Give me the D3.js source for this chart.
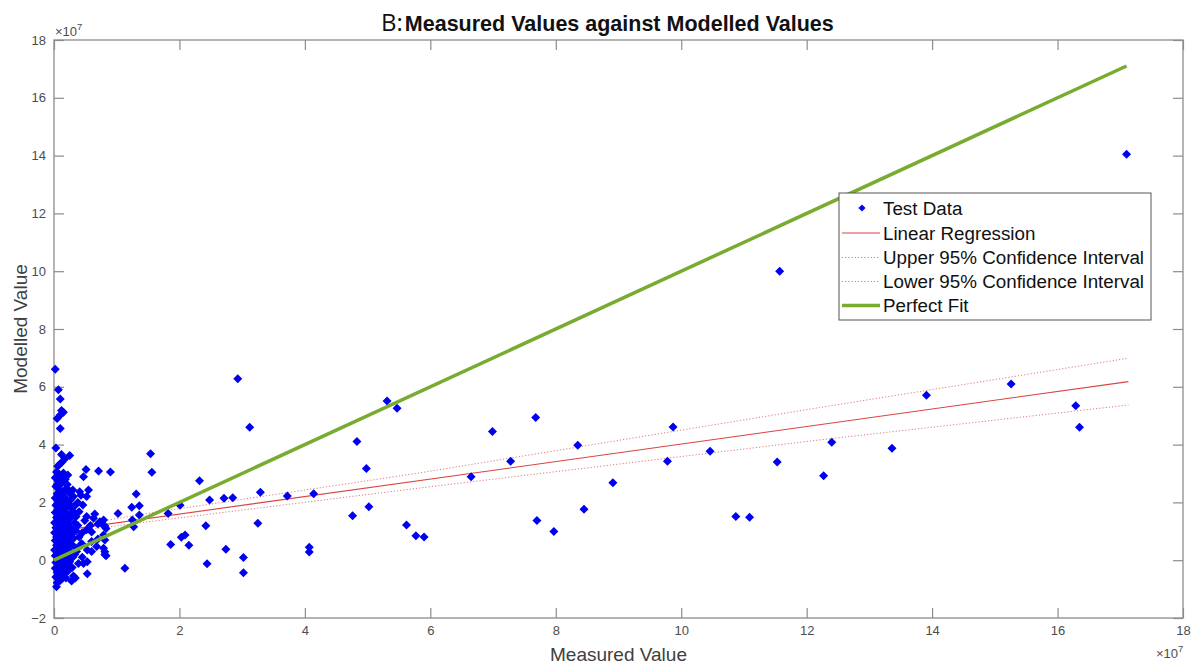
<!DOCTYPE html>
<html>
<head>
<meta charset="utf-8">
<script src="https://cdn.jsdelivr.net/npm/d3@7"></script>
<style>
  html, body { margin: 0; padding: 0; background: #fff; }
  svg { display: block; }
  text { font-family: "Liberation Sans", Arial, sans-serif; }
</style>
</head>
<body>
<svg id="chart" width="1199" height="664"></svg>
<script>
// ---- Data (values in units of 1e7) ----
const xTicks = [0, 2, 4, 6, 8, 10, 12, 14, 16, 18];
const yTicks = [-2, 0, 2, 4, 6, 8, 10, 12, 14, 16, 18];

// Test data: [measured, modelled]
const testPoints = [
  // dense column near zero
  [0.02,6.61],[0.07,5.90],[0.10,5.58],[0.12,5.18],[0.15,5.12],[0.10,5.02],[0.05,4.90],[0.10,4.56],
  [0.03,3.88],[0.12,3.66],[0.25,3.62],[0.17,3.50],[0.13,3.40],[0.06,3.25],[0.09,3.32],[0.04,3.05],
  [0.15,3.02],[0.22,2.95],[0.10,2.90],[0.02,2.85],[0.18,2.80],[0.07,2.72],[0.12,2.65],[0.03,2.55],
  [0.20,2.50],[0.09,2.45],[0.15,2.38],[0.05,2.30],[0.25,2.32],[0.30,2.43],[0.11,2.20],[0.02,2.15],
  [0.19,2.12],[0.07,2.05],[0.14,1.98],[0.24,1.95],[0.03,1.90],[0.10,1.85],[0.18,1.80],[0.06,1.75],
  [0.28,1.78],[0.13,1.70],[0.02,1.65],[0.21,1.62],[0.09,1.58],[0.16,1.52],[0.04,1.48],[0.26,1.45],
  [0.11,1.42],[0.19,1.38],[0.07,1.33],[0.01,1.30],[0.14,1.28],[0.23,1.25],[0.33,1.30],[0.09,1.20],
  [0.17,1.15],[0.03,1.12],[0.28,1.10],[0.12,1.05],[0.06,1.00],[0.20,0.98],[0.35,1.02],[0.01,0.95],
  [0.15,0.92],[0.09,0.88],[0.25,0.85],[0.04,0.80],[0.18,0.78],[0.31,0.75],[0.11,0.72],[0.02,0.68],
  [0.22,0.65],[0.07,0.62],[0.15,0.58],[0.28,0.55],[0.04,0.52],[0.12,0.48],[0.20,0.45],[0.35,0.42],
  [0.08,0.40],[0.01,0.35],[0.17,0.33],[0.26,0.30],[0.05,0.25],[0.13,0.22],[0.22,0.18],[0.02,0.15],
  [0.10,0.12],[0.30,0.10],[0.18,0.05],[0.06,0.02],[0.14,-0.02],[0.25,-0.05],[0.03,-0.08],[0.10,-0.12],
  [0.20,-0.15],[0.07,-0.20],[0.15,-0.25],[0.02,-0.28],[0.12,-0.35],[0.22,-0.38],[0.05,-0.42],[0.17,-0.48],
  [0.09,-0.52],[0.03,-0.58],[0.14,-0.62],[0.10,-0.70],[0.05,-0.78],[0.04,-0.92],[0.28,-0.72],[0.34,-0.62],
  [0.39,-0.11],[0.47,-0.11],[0.53,-0.05],[0.53,-0.47],[0.31,-0.55],
  [0.08,2.98],[0.21,2.62],[0.27,2.10],[0.33,1.88],[0.30,1.58],[0.24,1.05],[0.30,0.92],[0.33,0.20],
  [0.25,0.60],[0.29,-0.25],[0.19,-0.62],[0.08,-0.36],[0.16,0.10],[0.23,1.50],[0.05,2.62],[0.16,2.20],
  // right of the column
  [0.47,2.89],[0.51,3.14],[0.71,3.09],[0.90,3.05],[0.41,2.37],[0.55,2.43],[0.43,2.25],[0.31,2.20],
  [0.52,2.20],[0.46,1.91],[0.40,1.68],[0.31,1.68],[0.52,1.51],[0.63,1.45],[0.49,1.37],[0.73,1.33],
  [0.78,1.22],[0.83,1.10],[0.52,1.05],[0.60,0.98],[0.79,0.87],[0.70,0.73],[0.81,0.70],[0.44,0.58],
  [0.68,0.47],[0.53,0.35],[0.81,0.29],[0.83,0.15],[0.40,0.80],[0.45,0.95],[0.38,1.20],[0.58,1.20],
  [0.36,0.30],[0.42,0.50],[0.60,0.65],[0.38,2.00],[0.35,1.50],[0.65,1.60],[0.70,1.25],[0.60,0.30],
  [0.45,0.10],[0.79,1.39],[0.81,1.18],[0.79,0.41],[0.81,0.20],
  // 1 - 3
  [1.02,1.62],[1.13,-0.28],[1.24,1.83],[1.36,1.88],[1.31,2.29],[1.36,1.56],[1.25,1.39],[1.27,1.16],
  [1.54,3.68],[1.56,3.04],[1.82,1.62],[1.86,0.54],[2.01,1.90],[2.03,0.79],[2.09,0.87],[2.15,0.52],
  [2.32,2.75],[2.42,1.19],[2.44,-0.12],[2.48,2.08],[2.71,2.14],[2.74,0.38],[2.85,2.16],[2.93,6.28],
  [3.02,0.09],[3.02,-0.43],[3.12,4.60],[3.25,1.28],[3.29,2.35],
  // 3.5 - 9
  [3.72,2.22],[4.07,0.45],[4.07,0.28],[4.14,2.30],[4.76,1.54],[4.83,4.11],[4.98,3.17],[5.02,1.85],
  [5.31,5.51],[5.47,5.26],[5.62,1.22],[5.77,0.85],[5.90,0.80],[6.65,2.89],[6.99,4.45],[7.28,3.42],
  [7.68,4.94],[7.70,1.37],[7.97,0.99],[8.35,3.98],[8.45,1.76],[8.91,2.68],
  // 9 - 17.1
  [9.78,3.42],[9.87,4.61],[10.46,3.77],[10.87,1.51],[11.09,1.49],[11.53,3.40],[11.57,10.00],
  [12.27,2.92],[12.40,4.08],[13.36,3.87],[13.91,5.71],[15.26,6.10],[16.29,5.34],[16.35,4.60],
  [17.10,14.05]
];

// Linear regression and confidence bounds
const regX = [0, 17.13];
const regY = [0.99, 6.18];
const ciX = [0, 1.5, 5.8, 12.2, 17.13];
const ciUpper = [1.08, 1.62, 3.01, 5.28, 6.99];
const ciLower = [0.90, 1.33, 2.49, 4.16, 5.37];

// Perfect fit line
const perfectX = [0, 17.1];
const perfectY = [0, 17.1];

const legendLabels = ["Test Data", "Linear Regression", "Upper 95% Confidence Interval",
                      "Lower 95% Confidence Interval", "Perfect Fit"];

// ---- Drawing ----
const svg = d3.select("#chart");
svg.append("rect").attr("width", 1199).attr("height", 664).attr("fill", "#fff");

const pLeft = 54, pRight = 1183, pTop = 40, pBottom = 618;
const x = d3.scaleLinear().domain([0, 18]).range([pLeft, pRight]);
const y = d3.scaleLinear().domain([-2, 18]).range([pBottom, pTop]);

const axisColor = "#8c8c8c";
const labelColor = "#4d4d4d";

function styleAxis(g, labels) {
  g.select(".domain").remove();
  g.selectAll(".tick line").attr("stroke", axisColor).attr("stroke-width", 1.2);
  g.selectAll(".tick text").attr("fill", labelColor).attr("font-size", 13)
    .attr("font-family", "'Liberation Sans', Arial, sans-serif");
  if (!labels) g.selectAll(".tick text").remove();
}

svg.append("g").attr("transform", `translate(0,${pBottom})`)
  .call(d3.axisBottom(x).tickValues(xTicks).tickSizeInner(-10).tickSizeOuter(0).tickPadding(8))
  .call(g => styleAxis(g, true));
svg.append("g").attr("transform", `translate(0,${pTop})`)
  .call(d3.axisTop(x).tickValues(xTicks).tickSizeInner(-10).tickSizeOuter(0))
  .call(g => styleAxis(g, false));
svg.append("g").attr("transform", `translate(${pLeft},0)`)
  .call(d3.axisLeft(y).tickValues(yTicks).tickSizeInner(-10).tickSizeOuter(0).tickPadding(8))
  .call(g => styleAxis(g, true));
svg.append("g").attr("transform", `translate(${pRight},0)`)
  .call(d3.axisRight(y).tickValues(yTicks).tickSizeInner(-10).tickSizeOuter(0))
  .call(g => styleAxis(g, false));

// box
svg.append("rect").attr("x", pLeft).attr("y", pTop)
  .attr("width", pRight - pLeft).attr("height", pBottom - pTop)
  .attr("fill", "none").attr("stroke", axisColor).attr("stroke-width", 1.3);

// exponent labels
function expLabel(px, py) {
  const t = svg.append("text").attr("x", px).attr("y", py)
    .attr("fill", labelColor).attr("font-size", 13);
  t.append("tspan").text("\u00d710");
  t.append("tspan").attr("dy", -6).attr("font-size", 9.5).text("7");
}
expLabel(x(0) + 1, pTop - 4);
expLabel(x(18) - 27, 658);

// axis titles
svg.append("text").attr("x", (pLeft + pRight) / 2).attr("y", 661)
  .attr("text-anchor", "middle").attr("font-size", 19).attr("fill", "#404040")
  .text("Measured Value");
svg.append("text").attr("transform", `translate(27,${(pTop + pBottom) / 2}) rotate(-90)`)
  .attr("text-anchor", "middle").attr("font-size", 19).attr("fill", "#404040")
  .text("Modelled Value");

// title
const title = svg.append("text").attr("x", 381).attr("y", 31).attr("fill", "#111");
title.append("tspan").attr("font-family", "'Open Sans', sans-serif").attr("font-size", 24)
  .attr("font-weight", "normal").text("B:");
title.append("tspan").attr("font-size", 21.5).attr("font-weight", "bold")
  .attr("dx", 2).text("Measured Values against Modelled Values");

// lines
const line = d3.line().x(d => x(d[0])).y(d => y(d[1]));
const ciColor = "#e07a7a";
svg.append("path").datum(d3.zip(ciX, ciUpper)).attr("d", line)
  .attr("fill", "none").attr("stroke", ciColor).attr("stroke-width", 1)
  .attr("stroke-dasharray", "1.2,2");
svg.append("path").datum(d3.zip(ciX, ciLower)).attr("d", line)
  .attr("fill", "none").attr("stroke", ciColor).attr("stroke-width", 1)
  .attr("stroke-dasharray", "1.2,2");
svg.append("path").datum(d3.zip(regX, regY)).attr("d", line)
  .attr("fill", "none").attr("stroke", "#d9443f").attr("stroke-width", 1.1);

// points
const diamond = r => `M0,${-r}L${r},0L0,${r}L${-r},0Z`;
svg.append("g").selectAll("path").data(testPoints).join("path")
  .attr("transform", d => `translate(${x(d[0])},${y(d[1])})`)
  .attr("d", diamond(4.5)).attr("fill", "#0000f0").attr("stroke", "none");

svg.append("path").datum(d3.zip(perfectX, perfectY)).attr("d", line)
  .attr("fill", "none").attr("stroke", "#77ac30").attr("stroke-width", 3.5);

// legend
const lg = svg.append("g");
lg.append("rect").attr("x", 839).attr("y", 193).attr("width", 312).attr("height", 127)
  .attr("fill", "#fff").attr("stroke", "#555").attr("stroke-width", 1);
const rowY = [208, 233, 257.5, 281.5, 305.5];
legendLabels.forEach((lab, i) => {
  const yy = rowY[i];
  if (i === 0) {
    lg.append("path").attr("transform", `translate(862,${yy})`).attr("d", diamond(3.5))
      .attr("fill", "#0000f0");
  } else if (i === 1) {
    lg.append("line").attr("x1", 842).attr("x2", 880).attr("y1", yy).attr("y2", yy)
      .attr("stroke", "#d9443f").attr("stroke-width", 1.1);
  } else if (i < 4) {
    lg.append("line").attr("x1", 842).attr("x2", 880).attr("y1", yy).attr("y2", yy)
      .attr("stroke", ciColor).attr("stroke-width", 1).attr("stroke-dasharray", "1.2,2");
  } else {
    lg.append("line").attr("x1", 842).attr("x2", 880).attr("y1", yy).attr("y2", yy)
      .attr("stroke", "#77ac30").attr("stroke-width", 3.5);
  }
  lg.append("text").attr("x", 883).attr("y", yy).attr("dy", "0.36em")
    .attr("font-size", 18.8).attr("fill", "#111").text(lab);
});
</script>
</body>
</html>
